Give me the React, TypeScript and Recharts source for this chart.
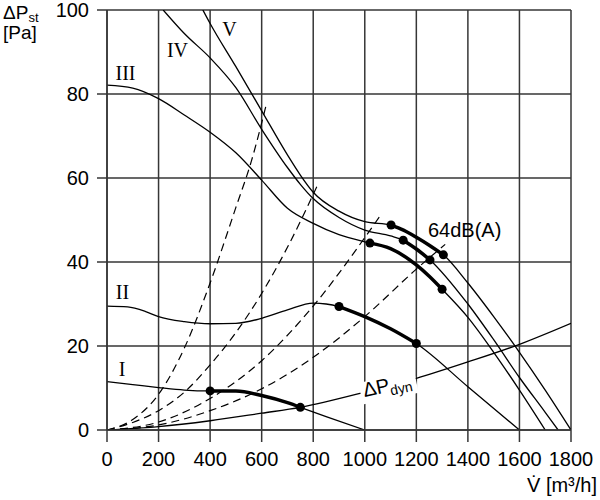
import { ComposedChart, Line, XAxis, YAxis, CartesianGrid } from 'recharts';

// fan characteristic: static pressure [Pa] over air flow [m³/h]
const flowTicks = [0, 200, 400, 600, 800, 1000, 1200, 1400, 1600, 1800];
const pressureTicks = [0, 20, 40, 60, 80, 100];

// speed steps I–V, [flow, pressure]
const curveI = [
  [0, 11.5], [100, 10.8], [200, 10.1], [300, 9.5], [400, 9.3], [500, 9.3],
  [600, 8.2], [700, 6.5], [750, 5.4], [850, 3.2], [1000, 0],
];
const curveII = [
  [0, 29.5], [80, 29.3], [150, 28.2], [200, 27], [300, 25.8], [400, 25.3],
  [500, 25.4], [600, 26.6], [700, 28.6], [800, 30.2], [850, 30], [900, 29.4],
  [1000, 27], [1100, 24.1], [1200, 20.6], [1400, 10.3], [1600, 0],
];
const curveIII = [
  [0, 82.1], [100, 81.4], [200, 78.9], [300, 75], [400, 70.9], [500, 66],
  [600, 59.5], [700, 52.8], [800, 49.2], [900, 46.5], [1020, 44.5],
  [1100, 43.2], [1200, 39.3], [1250, 36.6], [1300, 33.5], [1400, 26.8],
  [1500, 18.5], [1600, 9.5], [1700, 0],
];
const curveIV = [
  [218, 100], [300, 94.4], [400, 88.6], [500, 81.5], [600, 71.6], [700, 62.5],
  [750, 58.5], [800, 55.1], [900, 50.6], [1000, 47.6], [1100, 46.2],
  [1149, 45.2], [1200, 43.1], [1253, 40.5], [1400, 30], [1500, 21.5],
  [1600, 12.5], [1700, 4.2], [1750, 0],
];
const curveV = [
  [372, 100], [400, 96.8], [500, 86.5], [600, 76], [700, 65.5], [750, 60.7],
  [800, 56.6], [900, 52.1], [1000, 49.6], [1102, 48.8], [1150, 47.6],
  [1200, 45.9], [1250, 44], [1305, 41.7], [1400, 35], [1500, 27],
  [1600, 18.5], [1700, 9.5], [1800, 0],
];

// working range of each step (thick part, dots at both ends)
const rangeI = [400, 750];
const rangeII = [900, 1200];
const rangeIII = [1020, 1300];
const rangeIV = [1149, 1253];
const rangeV = [1102, 1305];

// system curves (dashed)
const systemA = [[0, 0], [100, 2.5], [200, 8.5], [300, 19.5], [400, 35], [500, 53], [560, 64], [620, 78]];
const systemB = [[0, 0], [100, 1.8], [200, 4.6], [300, 9], [400, 15.5], [500, 23.2], [600, 32.5], [700, 43.5], [822, 59]];
const systemC = [[0, 0], [200, 1.9], [400, 7.5], [600, 16.5], [800, 29.5], [1000, 45.8], [1062, 51.2]];
const systemD = [[0, 0], [200, 1.2], [400, 4.6], [600, 9.8], [800, 17.3], [1000, 27], [1200, 38.3], [1312, 44.2]];

// dynamic pressure
const dynamicPressure = [
  [0, 0], [200, 0.8], [400, 2.2], [600, 4], [750, 5.4], [1000, 9],
  [1200, 12.3], [1400, 16.2], [1600, 20.4], [1800, 25.4],
];

const rows = (pts: number[][]) => pts.map(([q, p]) => ({ q, p }));
const inRange = (pts: number[][], [lo, hi]: number[]) =>
  rows(pts.filter(([q]) => q >= lo && q <= hi));

const sans = '"Liberation Sans", Arial, Helvetica, sans-serif';
const serif = '"Liberation Serif", "Times New Roman", serif';
const gridColor = '#363636';

const endDots = (count: number) => (props: any) => {
  const { cx, cy, index } = props;
  if (index !== 0 && index !== count - 1) return <g key={`d${index}`} />;
  return <circle key={`d${index}`} cx={cx} cy={cy} r={4.5} fill="#000" />;
};

const thinLine = (pts: number[][], key: string) => (
  <Line
    key={key}
    data={rows(pts)}
    dataKey="p"
    type="monotone"
    stroke="#000"
    strokeWidth={1.3}
    dot={false}
    activeDot={false}
    isAnimationActive={false}
  />
);

const dashedLine = (pts: number[][], key: string) => (
  <Line
    key={key}
    data={rows(pts)}
    dataKey="p"
    type="monotone"
    stroke="#000"
    strokeWidth={1.2}
    strokeDasharray="8 5"
    dot={false}
    activeDot={false}
    isAnimationActive={false}
  />
);

const thickLine = (pts: number[][], range: number[], key: string) => {
  const seg = inRange(pts, range);
  return (
    <Line
      key={key}
      data={seg}
      dataKey="p"
      type="monotone"
      stroke="#000"
      strokeWidth={3.5}
      dot={endDots(seg.length)}
      activeDot={false}
      isAnimationActive={false}
    />
  );
};

export default function App() {
  return (
    <div style={{ position: 'absolute', left: 0, top: 0, width: 600, height: 500, background: '#fff' }}>
      <ComposedChart width={600} height={500} margin={{ top: 10, right: 29, bottom: 30, left: 0 }}>
        <CartesianGrid stroke={gridColor} strokeWidth={1.5} />
        <XAxis
          type="number"
          dataKey="q"
          domain={[0, 1800]}
          ticks={flowTicks}
          interval={0}
          height={40}
          tickSize={12}
          tickMargin={10}
          stroke={gridColor}
          strokeWidth={1.5}
          tick={{ fill: '#000', fontSize: 20, fontFamily: sans }}
          allowDataOverflow
        />
        <YAxis
          type="number"
          domain={[0, 100]}
          ticks={pressureTicks}
          interval={0}
          width={107}
          tickSize={10}
          tickMargin={8}
          stroke={gridColor}
          strokeWidth={1.5}
          tick={{ fill: '#000', fontSize: 20, fontFamily: sans }}
          allowDataOverflow
        />
        {dashedLine(systemA, 'sa')}
        {dashedLine(systemB, 'sb')}
        {dashedLine(systemC, 'sc')}
        {dashedLine(systemD, 'sd')}
        {thinLine(dynamicPressure, 'dyn')}
        {thinLine(curveI, 'c1')}
        {thinLine(curveII, 'c2')}
        {thinLine(curveIII, 'c3')}
        {thinLine(curveIV, 'c4')}
        {thinLine(curveV, 'c5')}
        {thickLine(curveI, rangeI, 't1')}
        {thickLine(curveII, rangeII, 't2')}
        {thickLine(curveIII, rangeIII, 't3')}
        {thickLine(curveIV, rangeIV, 't4')}
        {thickLine(curveV, rangeV, 't5')}
      </ComposedChart>

      <svg
        width={600}
        height={500}
        style={{ position: 'absolute', left: 0, top: 0, pointerEvents: 'none' }}
      >
        {/* axis titles */}
        <text x={3} y={19} fontFamily={sans} fontSize={19} fill="#000">
          ΔP<tspan fontSize={13} dy={3}>st</tspan>
        </text>
        <text x={3} y={39} fontFamily={sans} fontSize={19} fill="#000">[Pa]</text>
        <text x={597} y={492} fontFamily={sans} fontSize={20} fill="#000" textAnchor="end">
          V̇ [m³/h]
        </text>

        {/* step labels */}
        <g fontFamily={serif} fontSize={20} fill="#000" textAnchor="middle">
          <text x={122} y={376}>I</text>
          <text x={122.5} y={299}>II</text>
          <text x={125.5} y={80}>III</text>
          <text x={177.5} y={57}>IV</text>
          <text x={229.5} y={36}>V</text>
        </g>

        <text x={428} y={237} fontFamily={sans} fontSize={20} fill="#000">64dB(A)</text>

        {/* label sitting on the dynamic pressure line */}
        <g transform="rotate(-12 388 388)">
          <rect x={360} y={377} width={57} height={22} fill="#fff" />
          <text x={363} y={392} fontFamily={sans} fontSize={20} fill="#000">
            ΔP<tspan fontSize={14} dy={4}>dyn</tspan>
          </text>
        </g>
      </svg>
    </div>
  );
}
